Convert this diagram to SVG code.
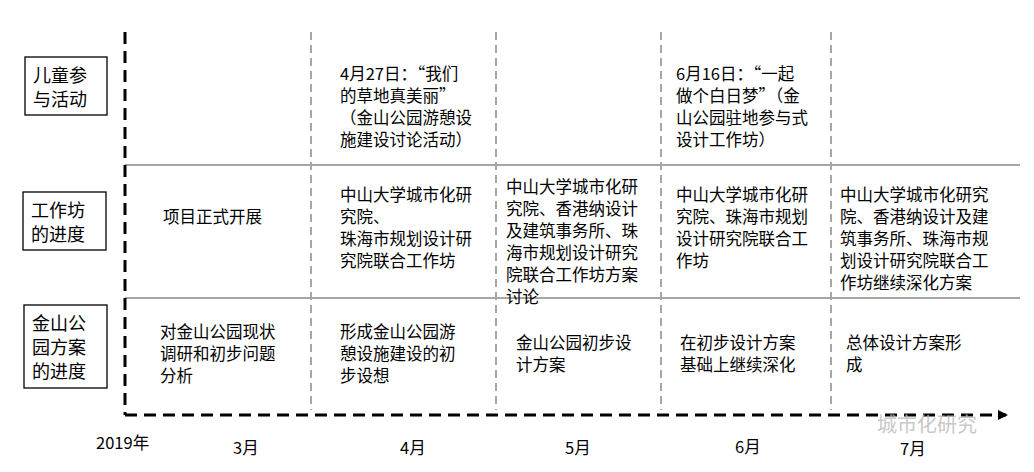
<svg xmlns="http://www.w3.org/2000/svg" width="1034" height="472" viewBox="0 0 1034 472">
<style>
text{font-family:"Noto Sans CJK SC","Liberation Sans",sans-serif;font-size:16.5px;fill:#000}
.box{fill:#fff;stroke:#000;stroke-width:1.3}
.lbl{font-size:18px}
.g{stroke:#a6a6a6;stroke-width:2;fill:none}
.gd{stroke:#a6a6a6;stroke-width:2;stroke-dasharray:8 5;fill:none}
.bd{stroke:#000;stroke-width:3;stroke-dasharray:12 7;fill:none}
</style>
<defs><marker id="ah" markerWidth="10" markerHeight="10" refX="8" refY="5" orient="auto" markerUnits="userSpaceOnUse"><path d="M0,0L10,5L0,10z" fill="#000"/></marker></defs>
<rect width="1034" height="472" fill="#fff"/>
<g id="connectors">
<line class="g" x1="125" y1="165" x2="1020" y2="165"/>
<line class="g" x1="125" y1="298" x2="1020" y2="298"/>
<line class="gd" x1="311" y1="32" x2="311" y2="410"/>
<line class="gd" x1="496" y1="32" x2="496" y2="410"/>
<line class="gd" x1="661" y1="32" x2="661" y2="410"/>
<line class="gd" x1="831" y1="32" x2="831" y2="410"/>
<line class="bd" x1="125" y1="32" x2="125" y2="415"/>
<line class="bd" x1="125" y1="415" x2="1006" y2="415" marker-end="url(#ah)"/>
</g>
<g id="row1"><rect class="box" x="25" y="57" width="82" height="58"/><text class="lbl" x="33" y="82">儿童参</text><text class="lbl" x="33" y="106">与活动</text></g>
<g id="row2"><rect class="box" x="23" y="192" width="83" height="58"/><text class="lbl" x="31" y="217">工作坊</text><text class="lbl" x="31" y="241">的进度</text></g>
<g id="row3"><rect class="box" x="24" y="305" width="83" height="83"/><text class="lbl" x="32" y="330">金山公</text><text class="lbl" x="32" y="354">园方案</text><text class="lbl" x="32" y="378">的进度</text></g>
<g id="c-a1"><text x="340" y="80">4月27日：“我们</text><text x="340" y="102">的草地真美丽”</text><text x="340" y="124">（金山公园游憩设</text><text x="340" y="146">施建设讨论活动）</text></g>
<g id="c-a2"><text x="676" y="80">6月16日：“一起</text><text x="676" y="102">做个白日梦”（金</text><text x="676" y="124">山公园驻地参与式</text><text x="676" y="146">设计工作坊）</text></g>
<g id="c-b0"><text x="163" y="223">项目正式开展</text></g>
<g id="c-b1"><text x="340" y="201">中山大学城市化研</text><text x="340" y="223">究院、</text><text x="340" y="245">珠海市规划设计研</text><text x="340" y="267">究院联合工作坊</text></g>
<g id="c-b2"><text x="506" y="193">中山大学城市化研</text><text x="506" y="215">究院、香港纳设计</text><text x="506" y="237">及建筑事务所、珠</text><text x="506" y="259">海市规划设计研究</text><text x="506" y="281">院联合工作坊方案</text><text x="506" y="303">讨论</text></g>
<g id="c-b3"><text x="676" y="201">中山大学城市化研</text><text x="676" y="223">究院、珠海市规划</text><text x="676" y="245">设计研究院联合工</text><text x="676" y="267">作坊</text></g>
<g id="c-b4"><text x="840" y="201">中山大学城市化研究</text><text x="840" y="223">院、香港纳设计及建</text><text x="840" y="245">筑事务所、珠海市规</text><text x="840" y="267">划设计研究院联合工</text><text x="840" y="289">作坊继续深化方案</text></g>
<g id="c-c0"><text x="160" y="338">对金山公园现状</text><text x="160" y="360">调研和初步问题</text><text x="160" y="382">分析</text></g>
<g id="c-c1"><text x="340" y="338">形成金山公园游</text><text x="340" y="360">憩设施建设的初</text><text x="340" y="382">步设想</text></g>
<g id="c-c2"><text x="516" y="349">金山公园初步设</text><text x="516" y="371">计方案</text></g>
<g id="c-c3"><text x="680" y="349">在初步设计方案</text><text x="680" y="371">基础上继续深化</text></g>
<g id="c-c4"><text x="846" y="349">总体设计方案形</text><text x="846" y="371">成</text></g>
<g id="axis"><text x="96" y="449">2019年</text><text x="233" y="454">3月</text><text x="400" y="454">4月</text><text x="565" y="454">5月</text><text x="735" y="453">6月</text><text x="900" y="455">7月</text></g>
<text x="877" y="432" style="font-size:20px;fill:#bbb;opacity:.8">城市化研究</text>
</svg>
